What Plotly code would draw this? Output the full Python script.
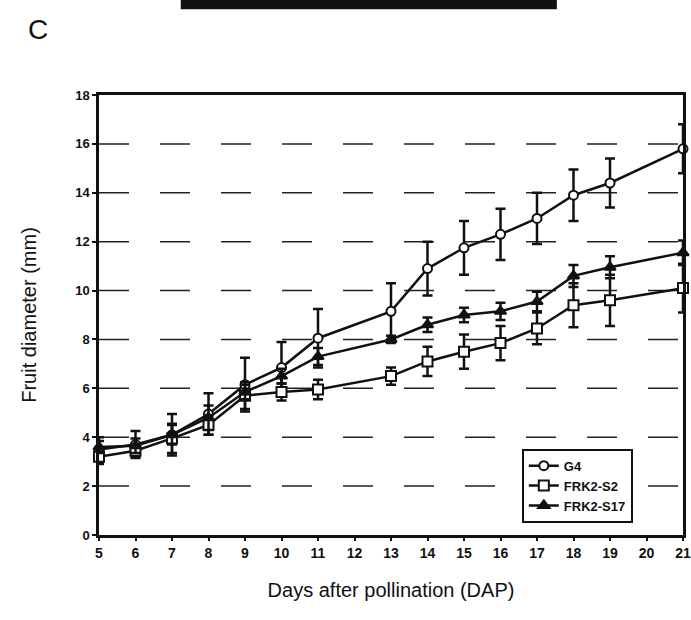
import plotly.graph_objects as go

days = [5, 6, 7, 8, 9, 10, 11, 13, 14, 15, 16, 17, 18, 19, 21]
g4 = [3.5, 3.7, 4.1, 4.95, 6.15, 6.85, 8.05, 9.15, 10.9, 11.75, 12.3, 12.95, 13.9, 14.4, 15.8]
g4_sd = [0.5, 0.55, 0.85, 0.85, 1.1, 1.05, 1.2, 1.15, 1.1, 1.1, 1.05, 1.05, 1.05, 1.0, 1.0]
s2 = [3.2, 3.45, 3.95, 4.5, 5.7, 5.85, 5.95, 6.5, 7.1, 7.5, 7.85, 8.45, 9.4, 9.6, 10.1]
s2_sd = [0.3, 0.25, 0.6, 0.4, 0.55, 0.35, 0.4, 0.35, 0.6, 0.7, 0.7, 0.65, 0.9, 1.05, 1.0]
s17 = [3.6, 3.65, 4.1, 4.8, 5.85, 6.5, 7.3, 8.0, 8.6, 9.0, 9.15, 9.55, 10.6, 10.95, 11.55]
s17_sd = [0.25, 0.3, 0.4, 0.5, 0.3, 0.3, 0.35, 0.15, 0.3, 0.3, 0.35, 0.4, 0.45, 0.45, 0.5]

x_ticks = list(range(5, 22))
y_ticks = list(range(0, 19, 2))
grid_levels = list(range(2, 17, 2))

series = [
    ("G4", g4, g4_sd, "circle", "white", 9),
    ("FRK2-S2", s2, s2_sd, "square", "white", 10),
    ("FRK2-S17", s17, s17_sd, "triangle-up", "#111", 10),
]

fig = go.Figure()
for name, vals, sd, sym, fill, sz in series:
    fig.add_trace(go.Scatter(
        x=days, y=vals, name=name, mode="lines+markers",
        line=dict(color="#111", width=2.5),
        marker=dict(symbol=sym, size=sz, color=fill, line=dict(color="#111", width=2)),
        error_y=dict(type="data", array=sd, visible=True, color="#111", thickness=2.5, width=5),
        cliponaxis=False,
    ))

font_main = "Liberation Sans, Arial, sans-serif"
font_narrow = "Liberation Sans Narrow, Arial Narrow, Liberation Sans, Arial, sans-serif"

grid_shapes = [
    dict(type="line", xref="paper", yref="y", x0=0, x1=1, y0=v, y1=v,
         layer="below", line=dict(color="#222", width=1.5, dash="30px,31px"))
    for v in grid_levels
]

fig.update_layout(
    width=691, height=620,
    margin=dict(l=99, r=8, t=95, b=85),
    paper_bgcolor="white", plot_bgcolor="white",
    font=dict(family=font_main, color="#111"),
    showlegend=True,
    legend=dict(
        x=0.724, y=0.196, xanchor="left", yanchor="top",
        bordercolor="#111", borderwidth=2, bgcolor="white",
        font=dict(size=13, family=font_narrow, color="#111", weight="bold"),
        itemwidth=30, tracegroupgap=0,
    ),
    xaxis=dict(
        range=[5, 21], tickvals=x_ticks, ticktext=[str(v) for v in x_ticks],
        showgrid=False, zeroline=False, automargin=False,
        showline=True, linecolor="#111", linewidth=2.5, mirror=True,
        ticks="outside", ticklen=3, tickwidth=2, tickcolor="#111",
        tickfont=dict(size=14, family=font_narrow, weight="bold"),
        title=dict(text="Days after pollination (DAP)", font=dict(size=20), standoff=24),
    ),
    yaxis=dict(
        range=[0, 18], tickvals=y_ticks, ticktext=[str(v) for v in y_ticks],
        showgrid=False, zeroline=False, automargin=False,
        showline=True, linecolor="#111", linewidth=2.5, mirror=True,
        ticks="outside", ticklen=4, tickwidth=2, tickcolor="#111",
        tickfont=dict(size=13, family=font_narrow, weight="bold"),
        title=dict(text="Fruit diameter (mm)", font=dict(size=20), standoff=34),
    ),
    annotations=[
        dict(text="C", xref="paper", yref="paper", x=-0.104, y=1.148,
             showarrow=False, font=dict(size=28, family=font_main, color="#111"),
             xanchor="center", yanchor="middle"),
    ],
    shapes=grid_shapes + [
        dict(type="rect", xref="paper", yref="paper", x0=0.140, x1=0.784,
             y0=1.195, y1=1.25, fillcolor="#111", line=dict(width=0)),
    ],
)

fig.write_html("out.html", config={"displayModeBar": False},
               post_script="document.body.style.margin='0px';")
